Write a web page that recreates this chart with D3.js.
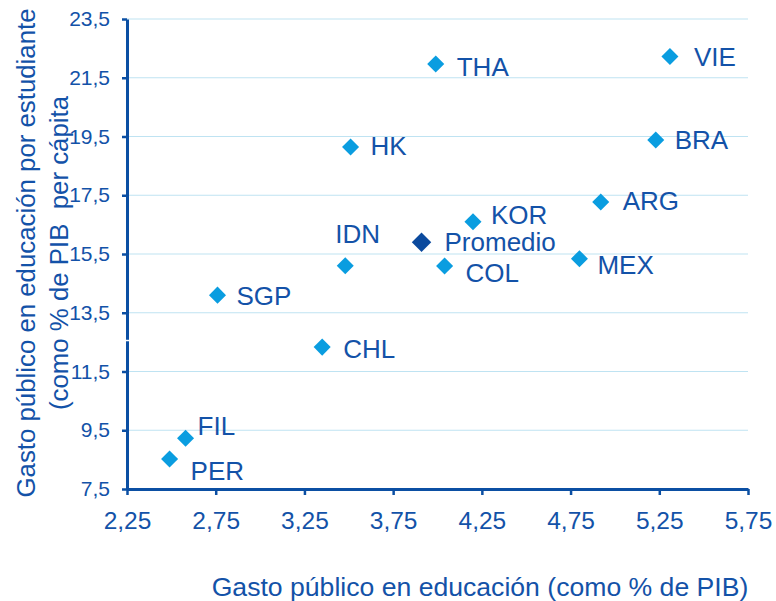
<!DOCTYPE html>
<html>
<head>
<meta charset="utf-8">
<script src="https://cdn.jsdelivr.net/npm/d3@7"></script>
<style>
  body { margin: 0; background: #fff; }
  svg { display: block; font-family: "Liberation Sans", Arial, sans-serif; }
</style>
</head>
<body>
<svg id="chart"></svg>
<script>
// data
var countries = ["PER", "FIL", "SGP", "CHL", "IDN", "HK", "THA", "Promedio", "COL", "KOR", "MEX", "ARG", "BRA", "VIE"];
var gastoPIB = [2.49, 2.58, 2.76, 3.35, 3.48, 3.51, 3.99, 3.91, 4.04, 4.20, 4.80, 4.92, 5.23, 5.31];
var gastoEstudiante = [8.52, 9.23, 14.10, 12.33, 15.10, 19.14, 21.97, 15.90, 15.09, 16.60, 15.34, 17.27, 19.38, 22.22];
var xTicks = [2.25, 2.75, 3.25, 3.75, 4.25, 4.75, 5.25, 5.75];
var yTicks = [7.5, 9.5, 11.5, 13.5, 15.5, 17.5, 19.5, 21.5, 23.5];

// label placement (dx, dy from marker)
var labelOffset = {
    "PER": [21, 12], "FIL": [12, -12], "SGP": [19, 1], "CHL": [21, 2],
    "IDN": [-10, -32], "HK": [20, -1], "THA": [21, 3], "Promedio": [23, 0],
    "COL": [21, 7], "KOR": [18, -7], "MEX": [18, 6], "ARG": [22, -1],
    "BRA": [19, 0], "VIE": [24, 0]
};

var WIDTH = 776, HEIGHT = 601;
var LEFT = 127, RIGHT = 748, TOP = 19, BOTTOM = 489;
var AXIS_COLOR = "#0b4fa3";
var TEXT_COLOR = "#1352a8";
var GRID_COLOR = "#bfe3f2";
var MARKER_COLOR = "#0a9de0";
var AVG_COLOR = "#0b4a9e";

var fmt = function (d) { return d3.format(".2f")(d).replace(".", ","); };
var fmt1 = function (d) { return d3.format(".1f")(d).replace(".", ","); };

var svg = d3.select("#chart")
    .attr("width", WIDTH)
    .attr("height", HEIGHT);

var x = d3.scaleLinear().domain([2.25, 5.75]).range([LEFT, RIGHT]);
var y = d3.scaleLinear().domain([7.5, 23.5]).range([BOTTOM, TOP]);

//draw gridlines
svg.append("g")
    .attr("class", "grid")
    .selectAll("line")
    .data(yTicks.slice(1))
    .enter().append("line")
    .attr("x1", LEFT)
    .attr("x2", RIGHT)
    .attr("y1", function (d) { return y(d); })
    .attr("y2", function (d) { return y(d); })
    .style("stroke", GRID_COLOR)
    .style("stroke-width", 1.2);

//draw x axis
var xAxis = svg.append("g")
    .attr("transform", "translate(0," + BOTTOM + ")")
    .call(d3.axisBottom(x).tickValues(xTicks).tickFormat(fmt).tickSize(6).tickSizeOuter(0));
xAxis.select(".domain").style("stroke", AXIS_COLOR).style("stroke-width", 3);
xAxis.selectAll(".tick line").style("stroke", AXIS_COLOR).style("stroke-width", 2.5);
xAxis.selectAll(".tick text")
    .attr("y", 23)
    .style("fill", TEXT_COLOR)
    .style("font-size", "24.5px");

//draw y axis
var yAxis = svg.append("g")
    .attr("transform", "translate(" + LEFT + ",0)")
    .call(d3.axisLeft(y).tickValues(yTicks).tickFormat(fmt1).tickSize(5).tickSizeOuter(0));
yAxis.select(".domain").style("stroke", AXIS_COLOR).style("stroke-width", 3);
yAxis.selectAll(".tick line").style("stroke", AXIS_COLOR).style("stroke-width", 2.5);
yAxis.selectAll(".tick text")
    .attr("x", -17)
    .style("fill", TEXT_COLOR)
    .style("font-size", "21px");

//small break in the y axis line
svg.append("rect")
    .attr("x", LEFT - 3)
    .attr("y", y(12.58))
    .attr("width", 6)
    .attr("height", 1.5)
    .style("fill", "#fff");

//draw markers
var pts = svg.append("g").selectAll("g")
    .data(countries)
    .enter().append("g")
    .attr("transform", function (d, i) { return "translate(" + x(gastoPIB[i]) + "," + y(gastoEstudiante[i]) + ")"; });
pts.append("path")
    .attr("d", function (d) { return d3.symbol().type(d3.symbolDiamond2).size(d === "Promedio" ? 240 : 185)(); })
    .style("fill", function (d) { return d === "Promedio" ? AVG_COLOR : MARKER_COLOR; });

//write labels
pts.append("text")
    .attr("x", function (d) { return labelOffset[d][0]; })
    .attr("y", function (d) { return labelOffset[d][1]; })
    .attr("dy", ".35em")
    .style("fill", TEXT_COLOR)
    .style("font-size", "26px")
    .text(function (d) { return d; });

//axis titles
svg.append("text")
    .attr("x", 480)
    .attr("y", 596)
    .style("text-anchor", "middle")
    .style("fill", TEXT_COLOR)
    .style("font-size", "26.6px")
    .text("Gasto público en educación (como % de PIB)");

var yTitle = svg.append("text")
    .attr("transform", "translate(35,253) rotate(-90)")
    .style("text-anchor", "middle")
    .style("fill", TEXT_COLOR)
    .style("font-size", "25.8px");
yTitle.append("tspan")
    .attr("x", 0)
    .attr("dy", 0)
    .text("Gasto público en educación por estudiante");
yTitle.append("tspan")
    .attr("x", 0)
    .attr("dy", 33)
    .text("(como % de PIB\u00a0\u00a0per cápita");
</script>
</body>
</html>
